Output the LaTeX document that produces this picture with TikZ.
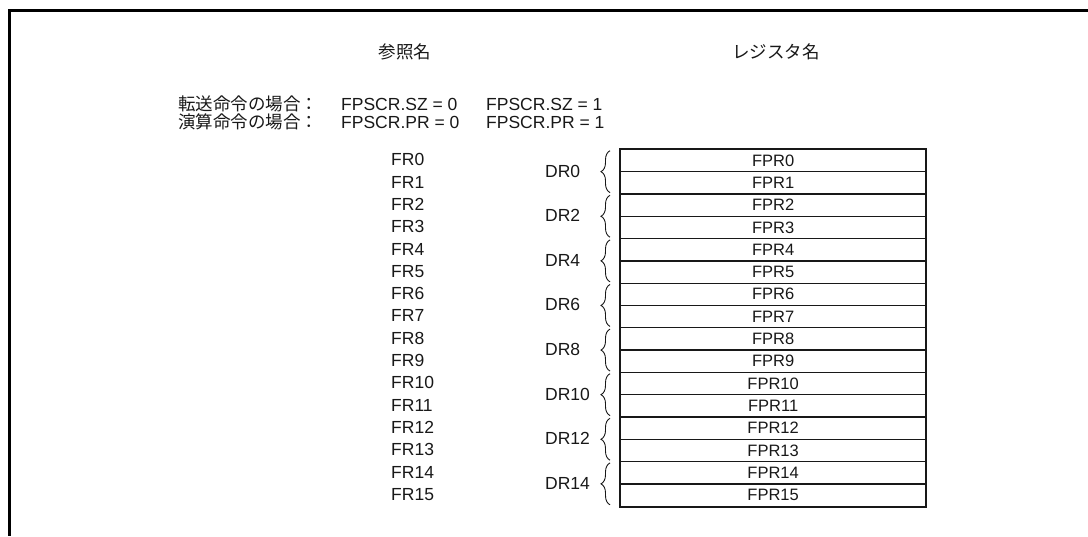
\documentclass[tikz,border=0pt]{standalone}
\usepackage{fontspec}
\setmainfont{Liberation Sans}
\newfontfamily\jp{Noto Sans CJK JP}
\usetikzlibrary{decorations.pathreplacing,calc}
\definecolor{ink}{HTML}{181818}
\begin{document}
\begin{tikzpicture}[x=1pt,y=-1pt,
  txt/.style={inner sep=0pt,text=ink,font=\fontsize{17.5}{20}\selectfont},
  jtxt/.style={inner sep=0pt,text=ink,font=\jp\fontsize{17.5}{20}\selectfont},
  rowbox/.style={draw=ink,line width=1.3pt,minimum width=305pt,minimum height=22.3pt,inner sep=0pt,anchor=north west,text=ink,font=\fontsize{16.5}{19}\selectfont},
  bracestyle/.style={draw=ink,line width=0.9pt,decorate,decoration={brace,amplitude=9pt}},
  frame/.style={line width=3pt,draw=black}]
\useasboundingbox (0,0) rectangle (1088,536);
\draw[frame] (8,10) coordinate (ftl) -- (1088,10) coordinate (ftr);
\draw[frame] (9,10) -- (9,536) coordinate (fbl);
% headers
\node[jtxt] (h1) at (405,52) {参照名};
\node[jtxt] (h2) at (776,52) {レジスタ名};
\node[jtxt,anchor=west] (m1) at (178,104) {転送命令の場合：};
\node[jtxt,anchor=west] (m2) at (178,122) {演算命令の場合：};
\node[txt,anchor=west] (a1) at (341,104) {FPSCR.SZ = 0};
\node[txt,anchor=west] (b1) at (486,104) {FPSCR.SZ = 1};
\node[txt,anchor=west] (a2) at (341,122) {FPSCR.PR = 0};
\node[txt,anchor=west] (b2) at (486,122) {FPSCR.PR = 1};
% rows
\foreach \i in {0,...,15}{
  \pgfmathsetmacro{\yt}{148.7+22.3*\i}
  \pgfmathsetmacro{\yc}{\yt+11.15}
  \node[rowbox] (fpr\i) at (620,\yt) {FPR\i};
  \node[txt,anchor=west] (fr\i) at (391,\yc) {FR\i};
}
\draw[draw=ink,line width=2.3pt] (fpr0.north west) rectangle (fpr15.south east);
\foreach \j in {0,2,...,14}{
  \pgfmathtruncatemacro{\k}{\j+1}
  \pgfmathsetmacro{\yb}{148.7+22.3*\k}
  \draw[bracestyle] ($(fpr\k.south west)+(-10,-2)$) -- ($(fpr\j.north west)+(-10,2)$);
  \node[txt,anchor=west] (dr\j) at (545,\yb) {DR\j};
}
\end{tikzpicture}
\end{document}
